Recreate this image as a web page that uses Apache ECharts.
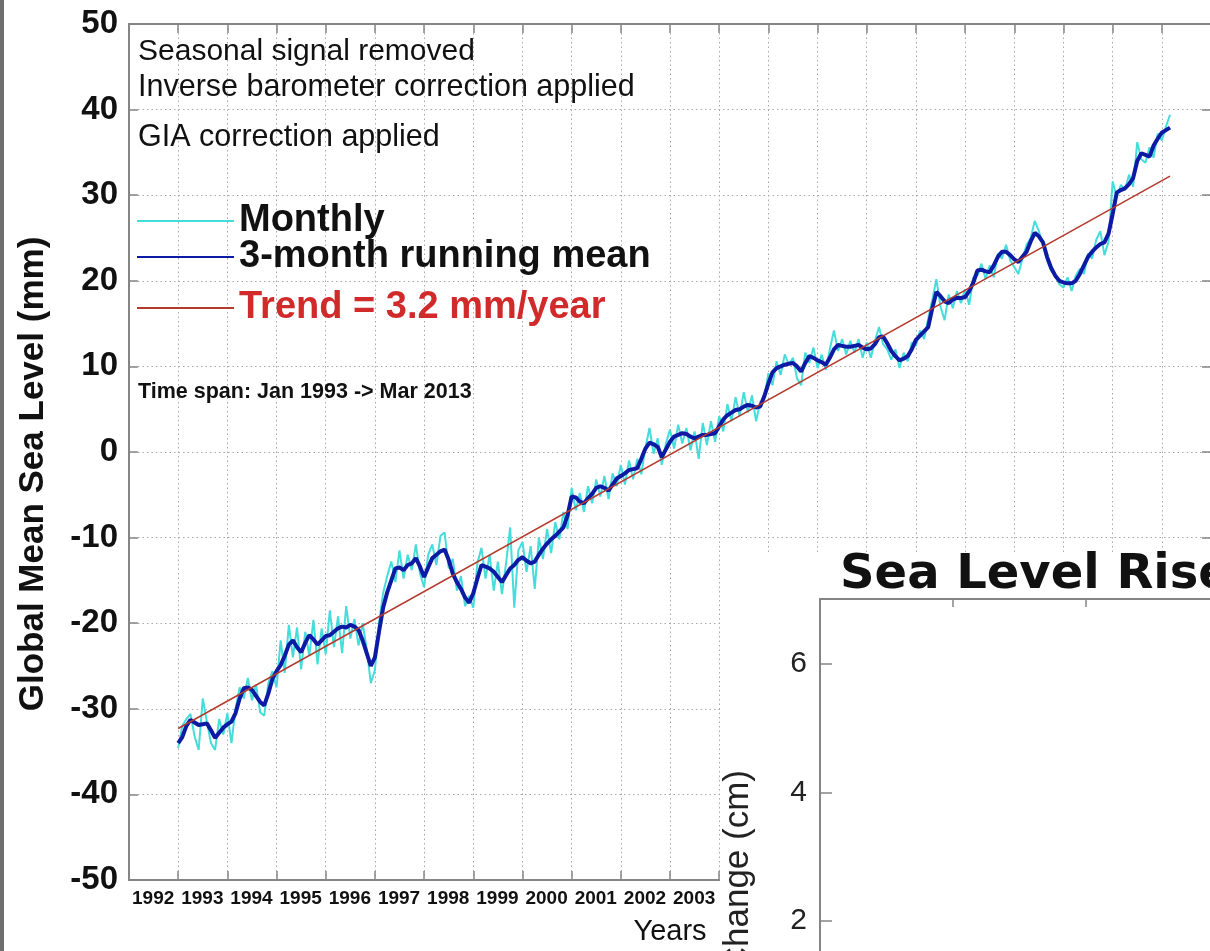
<!DOCTYPE html>
<html>
<head>
<meta charset="utf-8">
<script src="https://cdn.jsdelivr.net/npm/echarts@6/dist/echarts.min.js"></script>
<style>
  html, body { margin: 0; padding: 0; background: #fff; overflow: hidden; width: 1210px; height: 951px; }
  /* the drawing surface runs past the window so the cropped axes keep their scale */
  #chart { width: 1400px; height: 1100px; }
</style>
</head>
<body>
<div id="chart"></div>
<script>
// Global mean sea level, Jan 1993 -> Mar 2013 (mm), one value per month
const START_YEAR = 1993;

const monthlyGmsl = [
  -34.6, -32.0, -31.2, -30.6, -33.2, -34.8, -28.8, -31.5, -34.0, -34.8, -31.2, -33.0,
  -30.5, -34.0, -30.0, -27.5, -28.8, -26.4, -29.0, -27.2, -30.4, -30.8, -27.0, -25.6,
  -27.5, -22.0, -25.8, -20.2, -24.0, -20.5, -25.4, -21.0, -23.8, -19.6, -24.8, -20.6,
  -23.6, -18.5, -22.8, -19.2, -23.5, -18.0, -21.8, -19.5, -22.6, -20.0, -23.0, -27.0,
  -25.5, -20.0, -16.5, -14.5, -12.8, -15.2, -11.5, -14.8, -12.0, -13.8, -10.8, -14.2,
  -15.8, -12.0, -10.8, -13.2, -9.8, -9.4, -13.6, -12.5, -16.2, -14.5, -18.0, -16.8,
  -18.2, -13.0, -11.2, -14.8, -12.0, -16.2, -12.8, -16.6, -13.0, -8.8, -18.2, -11.5,
  -10.5, -14.0, -11.0, -16.0, -10.0, -12.5, -9.0, -11.8, -8.2, -10.2, -7.0, -9.0,
  -4.2, -6.8, -4.8, -7.0, -4.0, -6.0, -3.2, -5.2, -2.8, -5.5, -2.5, -4.0,
  -1.5, -3.8, -1.0, -3.2, -0.8, -2.6, 0.5, 2.8, -0.2, 1.6, -1.5, 1.0,
  2.6, 0.4, 3.2, 1.0, 2.8, 0.2, 2.4, -0.8, 3.4, 0.8, 3.6, 1.2,
  4.2, 2.4, 5.6, 3.6, 6.4, 4.2, 7.0, 4.6, 6.6, 3.6, 5.8, 6.2,
  9.2, 7.8, 10.6, 9.0, 11.4, 10.2, 11.0, 8.6, 7.8, 11.6, 10.4, 12.2,
  9.8, 11.4, 9.6, 12.0, 14.2, 11.8, 13.2, 11.4, 13.0, 11.6, 13.2, 11.0,
  12.8, 11.0, 13.0, 14.6, 12.6, 12.0, 10.8, 12.0, 9.8, 11.6, 10.6, 12.8,
  12.4, 14.2, 13.2, 15.6, 17.8, 20.2, 17.0, 15.4, 18.4, 16.8, 18.8, 17.4,
  19.0, 17.2, 20.4, 20.6, 22.0, 20.2, 21.8, 20.4, 23.2, 22.6, 24.2, 22.4,
  21.6, 20.8, 22.6, 24.2, 25.0, 27.0, 25.8, 24.2, 22.4, 21.2, 20.6, 19.6,
  19.2, 20.4, 18.8, 20.6, 21.4, 20.8, 23.2, 22.6, 24.8, 25.8, 23.0, 24.6,
  31.6, 29.8, 31.2, 30.6, 32.4, 31.0, 36.2, 34.2, 33.8, 35.6, 34.4, 37.2,
  36.4, 38.0, 39.4
];

const runningMean = [
  -34.0, -33.3, -32.0, -31.3, -31.6, -31.9, -31.8, -31.7, -32.5, -33.4, -32.8, -32.2,
  -31.8, -31.5, -30.5, -28.8, -27.6, -27.5, -27.8, -28.5, -29.2, -29.6, -28.2, -26.5,
  -25.6, -24.9, -23.8, -22.5, -22.0, -22.8, -23.4, -22.3, -21.4, -21.9, -22.5, -22.0,
  -21.5, -21.4, -21.0, -20.6, -20.4, -20.5, -20.2, -20.4, -20.8, -22.0, -23.5, -25.0,
  -24.0, -21.0, -18.2, -16.4, -15.0, -13.6, -13.5, -13.8, -13.2, -13.0, -12.4, -13.4,
  -14.6, -13.5, -12.4, -12.0, -11.6, -11.4, -12.6, -14.2, -15.2, -16.0, -17.0, -17.6,
  -16.5, -14.8, -13.2, -13.4, -13.6, -14.0, -14.6, -15.2, -14.4, -13.6, -13.2, -12.6,
  -12.3, -12.7, -13.0, -12.8, -12.0, -11.3, -10.7, -10.2, -9.8, -9.3, -8.8, -7.4,
  -5.2, -5.3, -5.8, -6.0, -5.4, -4.9, -4.2, -4.0, -4.2, -4.5, -3.8, -3.1,
  -2.8, -2.5, -2.1, -2.0, -1.9, -0.8, 0.4, 1.1, 0.9, 0.6, -0.6, 0.3,
  1.2, 1.8, 2.0, 2.2, 2.1, 1.8, 1.6, 1.8, 2.0, 2.0, 2.1, 2.2,
  3.0, 3.8, 4.3, 4.6, 4.9, 5.0, 5.3, 5.5, 5.4, 5.2, 5.3, 6.5,
  8.0, 9.3, 9.8, 10.0, 10.2, 10.3, 10.4, 10.0, 9.4, 10.4, 11.2, 11.0,
  10.7, 10.5, 10.2, 11.0, 12.0, 12.5, 12.4, 12.3, 12.3, 12.4, 12.5, 12.2,
  12.0, 12.1, 12.6, 13.4, 13.5, 12.7, 11.8, 11.2, 10.7, 10.9, 11.2, 12.0,
  13.1, 13.6, 14.1, 14.6, 16.8, 18.7, 18.2, 17.6, 17.4, 17.8, 18.0, 18.0,
  18.1, 18.8, 19.8, 21.2, 21.3, 21.1, 21.0, 21.8, 22.8, 23.4, 23.4, 23.0,
  22.5, 22.2, 22.8, 23.4, 24.6, 25.6, 25.2, 24.5, 22.8, 21.5, 20.6, 20.0,
  19.8, 19.7, 19.7, 20.0, 20.8, 21.8, 22.8, 23.4, 23.9, 24.3, 24.5, 25.5,
  27.8, 30.3, 30.6, 30.8, 31.3, 32.0, 34.0, 34.9, 34.7, 34.5, 35.8, 36.6,
  37.3, 37.6, 37.9
];

// Linear trend: rate in mm/year, level at the first month
const TREND_RATE = 3.2;
const TREND_START = -32.3;

// Axis tick labels
const yearLabels = ['1992', '1993', '1994', '1995', '1996', '1997', '1998', '1999', '2000',
  '2001', '2002', '2003', '2004', '2005', '2006', '2007', '2008', '2009', '2010', '2011', '2012', '2013'];
const insetTickLabels = [2, 4, 6];

const monthTime = i => START_YEAR + i / 12;
const toPairs = arr => arr.map((v, i) => [monthTime(i), v]);
const lastT = monthTime(monthlyGmsl.length - 1);
const trendPairs = [
  [START_YEAR, TREND_START],
  [lastT, TREND_START + TREND_RATE * (lastT - START_YEAR)]
];

const AXIS_GRAY = '#858585';
const SANS = "'Liberation Sans', Arial, sans-serif";
const gridDots = { type: [1.5, 3], color: '#a9a9a9', width: 1 };
const frameLine = { show: true, onZero: false, lineStyle: { color: AXIS_GRAY, width: 2 } };
const innerTick = len => ({ show: true, inside: true, length: len, lineStyle: { color: AXIS_GRAY, width: 1.5 } });

const legendBase = {
  orient: 'vertical', left: 136, padding: 0, itemWidth: 97, itemHeight: 14, itemGap: 0,
  selectedMode: false,
  itemStyle: { opacity: 0 },
  textStyle: { fontFamily: SANS, fontWeight: 'bold', fontSize: 38, color: '#111' }
};
const trendName = `Trend = ${TREND_RATE} mm/year`;

const chart = echarts.init(document.getElementById('chart'));

chart.setOption({
  animation: false,
  backgroundColor: '#ffffff',
  grid: [
    { left: 129, top: 24, width: 1082, height: 856, containLabel: false },
    { left: 820, top: 599, width: 532, height: 451, containLabel: false }
  ],
  xAxis: [
    {
      gridIndex: 0, type: 'value', min: 1992, max: 2014, interval: 1, position: 'bottom',
      axisLine: frameLine, axisTick: innerTick(9),
      axisLabel: {
        formatter: v => (yearLabels.includes(String(v)) ? String(v) : ''),
        align: 'left', padding: [0, 0, 0, 3], margin: 9,
        fontFamily: SANS, fontWeight: 'bold', fontSize: 19, color: '#111'
      },
      splitLine: { show: true, lineStyle: gridDots }
    },
    {
      gridIndex: 0, type: 'value', min: 1992, max: 2014, interval: 1, position: 'top',
      axisLine: frameLine, axisTick: innerTick(9), axisLabel: { show: false }, splitLine: { show: false }
    },
    {
      gridIndex: 1, type: 'value', min: 1880, max: 1960, interval: 20, position: 'top', z: 110,
      axisLine: frameLine, axisTick: innerTick(8), axisLabel: { show: false }, splitLine: { show: false }
    }
  ],
  yAxis: [
    {
      gridIndex: 0, type: 'value', min: -50, max: 50, interval: 10, position: 'left',
      axisLine: frameLine, axisTick: innerTick(9),
      axisLabel: { margin: 11, fontFamily: SANS, fontWeight: 'bold', fontSize: 33, color: '#111' },
      splitLine: { show: true, lineStyle: gridDots }
    },
    {
      gridIndex: 0, type: 'value', min: -50, max: 50, interval: 10, position: 'right',
      axisLine: frameLine, axisTick: innerTick(9), axisLabel: { show: false }, splitLine: { show: false }
    },
    {
      gridIndex: 1, type: 'value', min: 0, max: 7, interval: 2, position: 'left', z: 110,
      axisLine: frameLine, axisTick: innerTick(12),
      axisLabel: {
        margin: 13, fontFamily: SANS, fontSize: 30, color: '#222',
        formatter: v => (insetTickLabels.includes(v) ? String(v) : '')
      },
      splitLine: { show: false }
    }
  ],
  legend: [
    Object.assign({}, legendBase, { top: 202, data: ['Monthly'] }),
    Object.assign({}, legendBase, { top: 238, data: ['3-month running mean'] }),
    Object.assign({}, legendBase, {
      top: 289, data: [trendName],
      textStyle: Object.assign({}, legendBase.textStyle, { color: '#d12a2a' })
    })
  ],
  series: [
    {
      name: 'Monthly', type: 'line', xAxisIndex: 0, yAxisIndex: 0, symbol: 'none',
      data: toPairs(monthlyGmsl), lineStyle: { color: '#45dcdc', width: 2 }, itemStyle: { color: '#45dcdc' }, z: 2
    },
    {
      name: '3-month running mean', type: 'line', xAxisIndex: 0, yAxisIndex: 0, symbol: 'none',
      data: toPairs(runningMean), lineStyle: { color: '#0c1aa4', width: 4 }, itemStyle: { color: '#0c1aa4' }, z: 3
    },
    {
      name: trendName, type: 'line', xAxisIndex: 0, yAxisIndex: 0, symbol: 'none',
      data: trendPairs, lineStyle: { color: '#b33b2e', width: 1.5 }, itemStyle: { color: '#b33b2e' }, z: 4
    }
  ],
  graphic: {
    elements: [
      { type: 'rect', shape: { x: 0, y: 0, width: 4, height: 951 }, style: { fill: '#6e6e6e' }, z: 120 },
      { type: 'text', x: 138, y: 52, z: 20, style: { text: 'Seasonal signal removed', font: `30px ${SANS}`, fill: '#111', textAlign: 'left', textVerticalAlign: 'middle' } },
      { type: 'text', x: 138, y: 88, z: 20, style: { text: 'Inverse barometer correction applied', font: `30.5px ${SANS}`, fill: '#111', textAlign: 'left', textVerticalAlign: 'middle' } },
      { type: 'text', x: 138, y: 138, z: 20, style: { text: 'GIA correction applied', font: `30.5px ${SANS}`, fill: '#111', textAlign: 'left', textVerticalAlign: 'middle' } },
      { type: 'text', x: 138, y: 392, z: 20, style: { text: 'Time span: Jan 1993 -> Mar 2013', font: `bold 21.5px ${SANS}`, fill: '#111', textAlign: 'left', textVerticalAlign: 'middle' } },
      { type: 'text', x: 33, y: 474, rotation: Math.PI / 2, z: 20, style: { text: 'Global Mean Sea Level (mm)', font: `bold 35px ${SANS}`, fill: '#111', textAlign: 'center', textVerticalAlign: 'middle' } },
      { type: 'text', x: 670, y: 932, z: 20, style: { text: 'Years', font: `29px ${SANS}`, fill: '#111', textAlign: 'center', textVerticalAlign: 'middle' } },
      // overlapping panel
      { type: 'rect', shape: { x: 720, y: 553, width: 700, height: 560 }, style: { fill: '#ffffff' }, z: 100 },
      { type: 'text', x: 840, y: 576, z: 110, style: { text: 'Sea Level Rise', font: `bold 48px 'DejaVu Sans', sans-serif`, fill: '#111', textAlign: 'left', textVerticalAlign: 'middle' } },
      { type: 'text', x: 738, y: 770, rotation: Math.PI / 2, z: 110, style: { text: 'Sea Level Change (cm)', font: `35px ${SANS}`, fill: '#222', textAlign: 'right', textVerticalAlign: 'middle' } }
    ]
  }
});
</script>
</body>
</html>
